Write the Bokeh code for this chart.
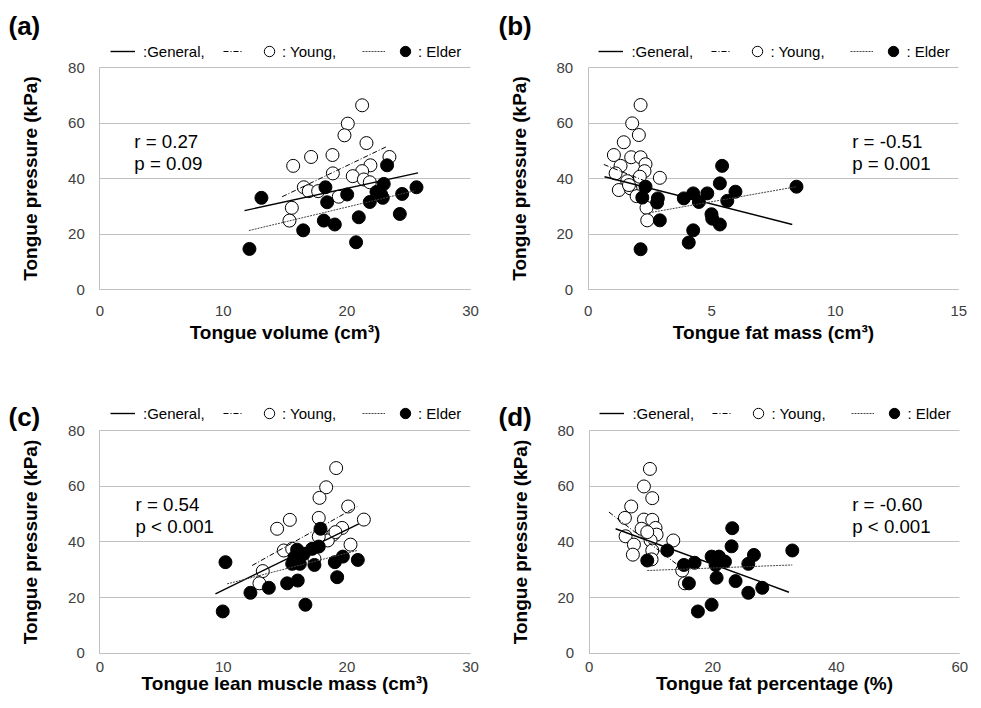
from bokeh.plotting import figure
from bokeh.layouts import column, row
from bokeh.models import Label, Legend, LegendItem
from bokeh.embed import file_html
from bokeh.resources import INLINE

FONT = "Liberation Sans"

# ---------------- data (tongue pressure, kPa) ----------------
y_ticks = [0, 20, 40, 60, 80]

# (a) tongue volume (cm3)
a_young_x = [21.23, 20.07, 19.80, 21.58, 17.10, 18.83, 15.65, 23.44, 21.90, 21.23,
             18.86, 20.47, 21.37, 21.85, 16.51, 16.91, 17.67, 19.34, 15.54, 15.35]
a_young_y = [66.4, 59.8, 55.6, 52.8, 47.8, 48.5, 44.6, 47.8, 44.8, 42.7,
             41.9, 40.9, 39.7, 38.7, 36.9, 35.5, 35.5, 33.5, 29.5, 24.9]
a_elder_x = [23.25, 22.98, 25.63, 13.08, 18.26, 20.02, 18.40, 22.39, 22.90, 24.47,
             21.85, 18.13, 19.02, 16.46, 20.96, 24.28, 20.74, 12.11, 22.77]
a_elder_y = [44.8, 38.1, 36.9, 33.1, 36.9, 34.3, 31.5, 35.2, 33.1, 34.5,
             31.6, 24.9, 23.5, 21.4, 26.1, 27.3, 17.1, 14.7, 34.3]
a_trend_x = {"general": [11.71, 25.76], "young": [14.76, 23.20], "elder": [12.06, 25.55]}
a_trend_y = {"general": [28.5, 42.1], "young": [33.5, 51.5], "elder": [21.3, 35.7]}

# (b) tongue fat mass (cm3)
b_young_x = [2.12, 1.78, 2.05, 1.44, 1.04, 1.74, 2.12, 2.32, 1.31, 2.28,
             1.11, 2.09, 2.90, 1.58, 1.24, 1.71, 1.96, 2.36, 2.39, 1.65]
b_young_y = [66.5, 59.9, 55.7, 53.1, 48.5, 47.7, 47.7, 45.2, 44.6, 42.7,
             41.9, 40.7, 40.3, 39.1, 35.9, 36.5, 33.7, 29.5, 25.0, 37.7]
b_elder_x = [5.42, 8.43, 5.33, 5.96, 2.32, 2.19, 2.82, 2.79, 3.87, 4.25,
             4.48, 4.82, 5.63, 4.99, 5.02, 5.33, 2.90, 4.25, 4.07, 2.12]
b_elder_y = [44.6, 37.1, 38.3, 35.3, 37.1, 33.2, 32.9, 31.4, 32.9, 34.7,
             31.6, 34.7, 32.0, 27.2, 25.6, 23.5, 25.0, 21.4, 17.0, 14.6]
b_trend_x = {"general": [0.66, 8.26], "young": [0.63, 2.32], "elder": [2.46, 8.43]}
b_trend_y = {"general": [40.7, 23.5], "young": [45.1, 39.1], "elder": [27.7, 37.1]}

# (c) tongue lean muscle mass (cm3)
c_young_x = [19.13, 18.32, 17.78, 20.10, 17.72, 15.38, 14.35, 21.37, 19.61, 18.88,
             18.45, 17.72, 20.29, 14.89, 15.92, 17.37, 13.19, 12.92, 15.57, 19.07]
c_young_y = [66.5, 59.6, 55.8, 52.7, 48.6, 47.9, 44.7, 48.0, 45.0, 42.6,
             40.5, 41.9, 39.0, 36.9, 34.7, 33.9, 29.5, 25.1, 37.5, 43.5]
c_elder_x = [17.86, 10.17, 15.97, 16.51, 17.18, 17.72, 15.57, 16.19, 17.37, 19.02,
             19.67, 20.88, 19.21, 15.16, 16.02, 13.68, 12.19, 16.64, 9.95, 15.75]
c_elder_y = [44.7, 32.7, 37.2, 35.7, 37.5, 38.3, 32.1, 32.1, 31.7, 32.7,
             34.7, 33.5, 27.3, 25.1, 26.1, 23.5, 21.7, 17.4, 15.0, 34.5]
c_trend_x = {"general": [9.36, 20.96], "young": [12.33, 20.83], "elder": [10.30, 20.83]}
c_trend_y = {"general": [21.3, 46.5], "young": [31.5, 52.7], "elder": [24.9, 36.9]}

# (d) tongue fat percentage (%)
d_young_x = [9.83, 8.86, 10.21, 6.80, 5.78, 8.86, 10.21, 8.48, 10.74, 10.91,
             5.89, 13.61, 7.24, 9.94, 7.07, 10.21, 10.10, 15.06, 15.50, 9.40]
d_young_y = [66.2, 59.9, 55.7, 52.7, 48.6, 48.0, 47.9, 44.7, 45.0, 42.6,
             42.0, 40.5, 39.0, 40.5, 35.4, 36.9, 33.7, 29.7, 25.1, 43.5]
d_elder_x = [23.16, 32.88, 23.05, 26.67, 12.64, 9.40, 15.33, 17.06, 19.82, 21.00,
             21.98, 20.46, 25.76, 20.63, 23.70, 16.14, 28.02, 25.76, 19.82, 17.60]
d_elder_y = [44.9, 36.9, 38.4, 35.3, 36.9, 33.3, 31.7, 32.5, 34.7, 34.7,
             32.9, 31.7, 32.1, 27.1, 25.9, 25.1, 23.5, 21.7, 17.4, 15.0]
d_trend_x = {"general": [4.27, 32.34], "young": [3.19, 14.80], "elder": [9.40, 32.88]}
d_trend_y = {"general": [44.7, 21.9], "young": [50.7, 30.9], "elder": [29.7, 31.7]}

panel_tags = ["(a)", "(b)", "(c)", "(d)"]
x_titles = ["Tongue volume (cm\u00b3)", "Tongue fat mass (cm\u00b3)",
            "Tongue lean muscle mass (cm\u00b3)", "Tongue fat percentage (%)"]
x_ticks = [[0, 10, 20, 30], [0, 5, 10, 15], [0, 10, 20, 30], [0, 20, 40, 60]]
stats_r = ["r = 0.27", "r = -0.51", "r = 0.54", "r = -0.60"]
stats_p = ["p = 0.09", "p = 0.001", "p < 0.001", "p < 0.001"]
legend_labels = [":General,", " ", ": Young,", " ", ": Elder"]
y_title = "Tongue pressure (kPa)"


def make_panel(i, yx, yy, ex, ey, tx, ty, geo):
    # geo: canvas size and where the axes sit on it (pixels)
    W, H = geo["W"], geo["H"]
    px0, px1 = geo["x0"], geo["x1"]        # pixel of x = 0 and x = max
    py80, py0 = geo["y80"], geo["y0"]      # pixel (from top) of y = 80 and y = 0
    xmax = x_ticks[i][-1]
    kx = xmax / (px1 - px0)
    ky = 80.0 / (py0 - py80)
    p = figure(width=W, height=H, min_border=0,
               x_range=(-px0 * kx, xmax + (W - px1) * kx),
               y_range=(-(H - py0) * ky, 80 + py80 * ky),
               output_backend="svg", toolbar_location=None,
               background_fill_color="white", border_fill_color="white",
               outline_line_color=None)
    p.title = None
    p.xgrid.visible = False
    p.ygrid.grid_line_color = "#c0c0c0"
    p.ygrid.grid_line_width = 1
    p.ygrid.bounds = (0, 80)
    p.ygrid.cross_bounds = (0, xmax)
    p.xaxis.ticker = x_ticks[i]
    p.yaxis.ticker = y_ticks
    p.xaxis.fixed_location = 0
    p.yaxis.fixed_location = 0
    p.xaxis.bounds = (0, xmax)
    p.yaxis.bounds = (0, 80)
    for ax in (p.xaxis[0], p.yaxis[0]):
        ax.axis_line_color = "#c0c0c0"
        ax.axis_line_width = 1
        ax.major_tick_line_color = None
        ax.minor_tick_line_color = None
        ax.major_tick_out = 0
        ax.major_tick_in = 0
        ax.major_label_text_font = FONT
        ax.major_label_text_font_size = "15px"
        ax.major_label_text_color = "#404040"
        ax.axis_label_text_font = FONT
        ax.axis_label_text_font_size = "19px"
        ax.axis_label_text_font_style = "bold"
        ax.axis_label_text_color = "black"
    p.xaxis.axis_label = x_titles[i]
    p.yaxis.axis_label = y_title
    p.xaxis.major_label_standoff = geo["xs_tick"]
    p.xaxis.axis_label_standoff = geo["xs_title"]
    p.yaxis.major_label_standoff = 15
    p.yaxis.axis_label_standoff = 24

    r_young = p.scatter(yx, yy, marker="circle", size=13, fill_color="white",
                        line_color="black", line_width=1)
    r_elder = p.scatter(ex, ey, marker="circle", size=13, fill_color="black",
                        line_color="black", line_width=1)
    r_gen = p.line(tx["general"], ty["general"], line_color="black", line_width=1.4)
    r_yl = p.line(tx["young"], ty["young"], line_color="black", line_width=1,
                  line_dash="5 2 1 2")
    r_el = p.line(tx["elder"], ty["elder"], line_color="#444444", line_width=1,
                  line_dash="2 1")

    # legend row above the plot area: five single-item legends
    leg_y = H - geo["leg_cy"] - 15
    leg_specs = [
        (r_gen, legend_labels[0], 10.7, 25, 8),
        (r_yl, legend_labels[1], 123.7, 19, 0),
        (r_young, legend_labels[2], 156.7, 26, 0),
        (r_el, legend_labels[3], 262.7, 23, 0),
        (r_elder, legend_labels[4], 292.7, 26, 0),
    ]
    for rend, lbl, dx, gw, ls in leg_specs:
        leg = Legend(items=[LegendItem(label=lbl, renderers=[rend])],
                     location=(px0 + dx, leg_y), orientation="horizontal",
                     glyph_width=gw, glyph_height=30, label_height=30,
                     label_width=0, label_standoff=ls, padding=0, margin=0,
                     spacing=0, border_line_color=None, background_fill_alpha=0,
                     label_text_font=FONT, label_text_font_size="15px",
                     label_text_color="black")
        p.add_layout(leg)

    p.add_layout(Label(x=8, y=H - geo["tag_cy"], x_units="screen", y_units="screen",
                       text=panel_tags[i], text_font=FONT, text_font_style="bold",
                       text_font_size="26px", text_align="left",
                       text_baseline="middle", text_color="black"))
    for txt, up in ((stats_r[i], 148.7), (stats_p[i], 126.8)):
        p.add_layout(Label(x=px0 + geo["stats_dx"], y=(H - py0) + up,
                           x_units="screen", y_units="screen",
                           text=txt, text_font=FONT, text_font_size="18.7px",
                           text_align="left", text_baseline="middle",
                           text_color="black"))
    return p


row1 = dict(H=365, y80=67, y0=289.3, xs_tick=16, xs_title=3, leg_cy=51, tag_cy=25)
row2 = dict(H=343, y80=65, y0=287.7, xs_tick=9, xs_title=-3, leg_cy=48, tag_cy=51)

pa = make_panel(0, a_young_x, a_young_y, a_elder_x, a_elder_y, a_trend_x, a_trend_y,
                dict(row1, W=490, x0=99.3, x1=470, stats_dx=34.5))
pb = make_panel(1, b_young_x, b_young_y, b_elder_x, b_elder_y, b_trend_x, b_trend_y,
                dict(row1, W=491, x0=97.7, x1=468.3, stats_dx=264))
pc = make_panel(2, c_young_x, c_young_y, c_elder_x, c_elder_y, c_trend_x, c_trend_y,
                dict(row2, W=490, x0=99.3, x1=470, stats_dx=35.7))
pd = make_panel(3, d_young_x, d_young_y, d_elder_x, d_elder_y, d_trend_x, d_trend_y,
                dict(row2, W=491, x0=98.7, x1=469.3, stats_dx=263))

layout = column(row(pa, pb), row(pc, pd))
open("out.html", "w").write(file_html(layout, INLINE))
